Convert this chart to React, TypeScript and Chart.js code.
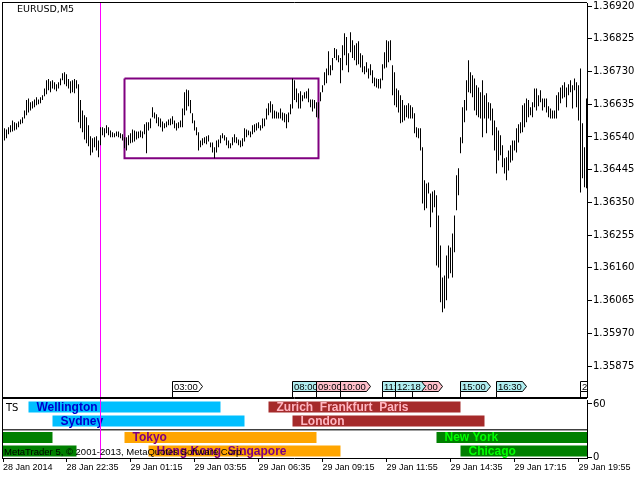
import React, { useEffect, useRef } from "react";
import { Chart, registerables } from "chart.js";

Chart.register(...registerables);

const SYMBOL_LABEL = "EURUSD,M5";
const INDICATOR_LABEL = "TS";
const COPYRIGHT = "MetaTrader 5, © 2001-2013, MetaQuotes Software Corp.";

// M5 bars, 28 Jan 2014 20:00 -> 29 Jan 2014 20:15 (one entry per bar)
const HIGHS = [
  1.36565, 1.36562, 1.36568, 1.36574, 1.36588, 1.36583, 1.3658, 1.36585, 1.36591, 1.36597,
  1.36617, 1.36647, 1.36652, 1.36641, 1.36644, 1.36649, 1.36655, 1.36649, 1.36655, 1.36661,
  1.36681, 1.36705, 1.36708, 1.36702, 1.36705, 1.36699, 1.36693, 1.36699, 1.3671, 1.36725,
  1.36728, 1.36722, 1.36708, 1.36702, 1.36705, 1.36708, 1.36705, 1.36693, 1.36647, 1.36617,
  1.36603, 1.36597, 1.36574, 1.36542, 1.36536, 1.36539, 1.36542, 1.3653,
  1.36568, 1.36568, 1.36565, 1.36574, 1.36568, 1.36559, 1.36554, 1.36551, 1.36556, 1.36556,
  1.36551, 1.36548, 1.36539, 1.36539, 1.36545, 1.36551, 1.36562, 1.36559, 1.36556, 1.36556,
  1.36559, 1.36556, 1.36577, 1.36583, 1.36583, 1.36594, 1.36626, 1.36611, 1.36606, 1.36597,
  1.36594, 1.36585, 1.3658, 1.36585, 1.36591, 1.36594, 1.366, 1.36588, 1.3658, 1.36583,
  1.36588, 1.36623, 1.3667, 1.36678, 1.36676, 1.36647, 1.36609, 1.36588, 1.36568, 1.36554,
  1.3653, 1.36536, 1.36539, 1.36542, 1.36545, 1.36524, 1.36524, 1.3651, 1.3653, 1.36533,
  1.36545, 1.36551, 1.36545, 1.36539, 1.3653, 1.36522, 1.36539, 1.36548, 1.36539, 1.36533,
  1.3653, 1.36536, 1.36565, 1.36562, 1.36559, 1.36556, 1.36574, 1.36577, 1.3658, 1.36583,
  1.36574, 1.36594, 1.36594, 1.36623, 1.36638, 1.36644, 1.36635, 1.36617, 1.36614, 1.36611,
  1.36623, 1.36611, 1.36609, 1.36606, 1.36611, 1.36635, 1.3671, 1.36705, 1.36681, 1.36667,
  1.36673, 1.36661, 1.3667, 1.36673, 1.36681, 1.36649, 1.36649, 1.36647, 1.36641, 1.36641,
  1.3667, 1.3669, 1.36728, 1.36739, 1.36789, 1.36748, 1.36769, 1.36798, 1.36795, 1.36777,
  1.36769, 1.36806, 1.36841, 1.3683, 1.36783, 1.36844, 1.36821, 1.36806, 1.36812, 1.36818,
  1.36783, 1.36777, 1.36745, 1.36757, 1.36739, 1.36751, 1.36734, 1.36713, 1.3671, 1.36708,
  1.3671, 1.36751, 1.36786, 1.36821, 1.36818, 1.36821, 1.36748, 1.36728, 1.36681, 1.36676,
  1.36661, 1.36647, 1.36632, 1.36632, 1.36638, 1.36632, 1.36626, 1.36609, 1.36568, 1.36565,
  1.36565, 1.3651, 1.36414, 1.36405, 1.36408, 1.36376, 1.36382, 1.36385, 1.36371, 1.36312,
  1.36225, 1.36132, 1.36138, 1.36196, 1.36225, 1.36219, 1.3626, 1.36312, 1.36429, 1.36449,
  1.36539, 1.36626, 1.36647, 1.36705, 1.36763, 1.36728, 1.36719, 1.3671, 1.3669, 1.36684,
  1.3667, 1.36705, 1.36661, 1.36667, 1.36641, 1.36638, 1.36623, 1.36588, 1.36568, 1.36559,
  1.36545, 1.36516, 1.36478, 1.36481, 1.36501, 1.36516, 1.3653, 1.3653, 1.36565, 1.36577,
  1.36583, 1.36632, 1.36638, 1.36652, 1.36647, 1.36626, 1.36641, 1.36681, 1.36681, 1.36661,
  1.36676, 1.36652, 1.36652, 1.36652, 1.36629, 1.36623, 1.36617, 1.36617, 1.36661, 1.3667,
  1.36684, 1.3669, 1.36699, 1.36684, 1.36693, 1.36705, 1.3669, 1.3671, 1.36699, 1.3669,
  1.36739, 1.3658, 1.3651, 1.36652,
];

const LOWS = [
  1.3653, 1.36536, 1.36548, 1.36554, 1.36556, 1.36559, 1.36562, 1.36568, 1.36577, 1.3658,
  1.36594, 1.36603, 1.36611, 1.36617, 1.36623, 1.36626, 1.36632, 1.36635, 1.36638, 1.36647,
  1.36658, 1.36664, 1.36676, 1.3667, 1.36681, 1.36678, 1.36673, 1.36681, 1.3669, 1.36705,
  1.36693, 1.36687, 1.36681, 1.36667, 1.3667, 1.36667, 1.36681, 1.36583, 1.36565, 1.36554,
  1.36533, 1.36522, 1.36513, 1.36487, 1.36495, 1.3651, 1.36501, 1.36481,
  1.36516, 1.36545, 1.36539, 1.36551, 1.36545, 1.36539, 1.36539, 1.36539, 1.36542, 1.36539,
  1.36536, 1.3653, 1.36507, 1.36501, 1.36516, 1.36522, 1.36524, 1.36527, 1.36533, 1.36536,
  1.36539, 1.36536, 1.36548, 1.36493, 1.36559, 1.36565, 1.36597, 1.36594, 1.3658, 1.36571,
  1.36568, 1.36556, 1.36565, 1.36568, 1.36574, 1.36574, 1.36577, 1.36565, 1.36559, 1.36565,
  1.36568, 1.36568, 1.36603, 1.36617, 1.36629, 1.36609, 1.3658, 1.36559, 1.36545, 1.36501,
  1.3651, 1.36516, 1.36522, 1.36519, 1.36527, 1.3651, 1.36495, 1.36478, 1.36495, 1.3651,
  1.36522, 1.36536, 1.3653, 1.36516, 1.36507, 1.36507, 1.36516, 1.36524, 1.36522, 1.36516,
  1.3651, 1.36513, 1.36527, 1.36539, 1.36545, 1.36539, 1.36548, 1.36554, 1.36559, 1.36565,
  1.36559, 1.36565, 1.36571, 1.36591, 1.36603, 1.36611, 1.36594, 1.36594, 1.36594, 1.36594,
  1.36594, 1.36588, 1.36583, 1.36565, 1.36583, 1.36606, 1.36623, 1.36647, 1.36641, 1.36623,
  1.36623, 1.36644, 1.36652, 1.36652, 1.36641, 1.36626, 1.36614, 1.36623, 1.36597, 1.36594,
  1.36644, 1.3667, 1.3669, 1.36696, 1.36719, 1.36719, 1.36734, 1.36769, 1.36763, 1.36757,
  1.36696, 1.36734, 1.36777, 1.36748, 1.36728, 1.36786, 1.36769, 1.36763, 1.36748, 1.36751,
  1.36742, 1.36728, 1.36722, 1.36728, 1.3671, 1.36719, 1.36696, 1.36687, 1.36684, 1.36681,
  1.36681, 1.36705, 1.36739, 1.36742, 1.36757, 1.36763, 1.36661, 1.36632, 1.36626, 1.36611,
  1.3658, 1.36583, 1.36588, 1.36597, 1.36594, 1.36594, 1.36594, 1.36551, 1.36539, 1.36536,
  1.36501, 1.36347, 1.36327, 1.36333, 1.36376, 1.36278, 1.36321, 1.36336, 1.36167, 1.36161,
  1.3606, 1.36031, 1.36042, 1.36066, 1.36129, 1.36144, 1.36132, 1.36205, 1.36327, 1.36371,
  1.36493, 1.36522, 1.36583, 1.36617, 1.3667, 1.36667, 1.36655, 1.36617, 1.36603, 1.36597,
  1.36594, 1.36539, 1.36594, 1.36551, 1.36594, 1.36588, 1.36545, 1.36501, 1.36434, 1.36472,
  1.36487, 1.36452, 1.36434, 1.36414, 1.36443, 1.36466, 1.36472, 1.36501, 1.36495, 1.36524,
  1.36551, 1.36554, 1.36568, 1.36583, 1.36597, 1.36603, 1.36597, 1.36626, 1.36617, 1.36629,
  1.36641, 1.36617, 1.36626, 1.36611, 1.36597, 1.36594, 1.36594, 1.36594, 1.36594, 1.36617,
  1.36638, 1.36652, 1.36655, 1.36626, 1.36661, 1.3667, 1.36623, 1.36676, 1.36626, 1.36588,
  1.36379, 1.3642, 1.36394, 1.36391,
];

const PRICE_TICKS = [
  1.35875, 1.3597, 1.36065, 1.3616, 1.36255, 1.3635, 1.36445, 1.3654, 1.36635, 1.3673, 1.36825, 1.3692,
];

const TIME_TICK_BARS = [-0.75, 31, 63, 95, 127, 159, 191, 223, 255, 287];
const TIME_TICK_LABELS = [
  "28 Jan 2014", "28 Jan 22:35", "29 Jan 01:15", "29 Jan 03:55", "29 Jan 06:35",
  "29 Jan 09:15", "29 Jan 11:55", "29 Jan 14:35", "29 Jan 17:15", "29 Jan 19:55",
];

const DAY_SEPARATOR_BAR = 48; // 29 Jan 00:00

const BOX_BARS = [60, 157];
const BOX_PRICES = [1.3671, 1.36478];

const EVENT_LABELS = ["03:00", "08:00", "09:00", "10:00", "11:45", "13:00", "12:18", "15:00", "16:30", "20:00"];
const EVENT_BARS = [84, 144, 156, 168, 189, 204, 195.6, 228, 246, 288];
const EVENT_IMPORTANCE = ["none", "low", "medium", "medium", "low", "medium", "low", "low", "low", "none"];

const SESSION_LABELS = [
  "", "", "Wellington", "Sydney", "Tokyo", "Hong Kong  Singapore",
  "Zurich  Frankfurt  Paris", "London", "New York", "Chicago",
];
const SESSION_STARTS = [-0.75, -0.75, 12, 24, 60, 72, 132, 144, 216, 228];
const SESSION_ENDS = [24, 36, 108, 120, 156, 168, 228, 240, 291.25, 291.25];
const SESSION_ROWS = [22.1, 6.8, 56.6, 40.8, 22.1, 6.8, 56.6, 40.8, 22.1, 6.8];
const SESSION_FILLS = [
  "#008000", "#008000", "#00BFFF", "#00BFFF", "#FFA500", "#FFA500",
  "#A52A2A", "#A52A2A", "#008000", "#008000",
];
const SESSION_TEXT_COLORS = [
  "#00FF00", "#00FF00", "#0000CD", "#0000CD", "#800080", "#800080",
  "#FFB6C1", "#FFB6C1", "#00FF00", "#00FF00",
];

const PANEL_TICKS = [0, 60];
const PANEL_DIVIDER = 31.1;

const EVENT_COLORS: Record<string, string> = { none: "#FFFFFF", low: "#B0EEF0", medium: "#FFC0CB" };

const X_MIN = -0.75;
const X_MAX = 291.25;

const topDecor = {
  id: "topDecor",
  beforeDatasetsDraw(chart: any) {
    const { ctx, chartArea: a, scales } = chart;
    const px = Math.floor(scales.x.getPixelForValue(DAY_SEPARATOR_BAR)) + 0.5;
    ctx.save();
    ctx.strokeStyle = "#FF00FF";
    ctx.lineWidth = 1;
    ctx.beginPath();
    ctx.moveTo(px, a.top);
    ctx.lineTo(px, a.bottom);
    ctx.stroke();
    ctx.restore();
  },
  afterDatasetsDraw(chart: any) {
    const { ctx, chartArea: a, scales } = chart;
    ctx.save();
    // event tags along the bottom of the price window
    ctx.beginPath();
    ctx.rect(a.left, a.top, a.right - a.left, a.bottom - a.top);
    ctx.clip();
    ctx.font = "9.5px 'Liberation Sans'";
    ctx.textBaseline = "middle";
    const bottom = a.bottom - 5.5;
    const top = bottom - 10;
    EVENT_LABELS.forEach((label, i) => {
      const x0 = Math.floor(scales.x.getPixelForValue(EVENT_BARS[i])) + 0.5;
      const w = Math.round(ctx.measureText(label).width) + 2;
      ctx.beginPath();
      ctx.moveTo(x0, top);
      ctx.lineTo(x0 + w, top);
      ctx.lineTo(x0 + w + 4, (top + bottom) / 2);
      ctx.lineTo(x0 + w, bottom);
      ctx.lineTo(x0, bottom);
      ctx.closePath();
      ctx.fillStyle = EVENT_COLORS[EVENT_IMPORTANCE[i]];
      ctx.fill();
      ctx.strokeStyle = "#000";
      ctx.lineWidth = 1;
      ctx.stroke();
      ctx.beginPath();
      ctx.moveTo(x0, bottom);
      ctx.lineTo(x0, a.bottom);
      ctx.stroke();
      ctx.fillStyle = "#000";
      ctx.textAlign = "left";
      ctx.fillText(label, x0 + 1.5, (top + bottom) / 2 + 0.5);
    });
    ctx.restore();

    ctx.save();
    ctx.fillStyle = "#000";
    ctx.font = "9.5px 'DejaVu Sans'";
    ctx.textBaseline = "middle";
    ctx.textAlign = "left";
    ctx.fillText(SYMBOL_LABEL, 17, 10);
    ctx.strokeStyle = "#000";
    ctx.lineWidth = 1;
    ctx.beginPath();
    ctx.moveTo(2.5, 2);
    ctx.lineTo(2.5, a.bottom + 2);
    ctx.moveTo(2, 2.5);
    ctx.lineTo(a.right, 2.5);
    ctx.moveTo(2, a.bottom + 0.5);
    ctx.lineTo(a.right, a.bottom + 0.5);
    ctx.moveTo(2, a.bottom + 1.5);
    ctx.lineTo(a.right, a.bottom + 1.5);
    ctx.stroke();
    ctx.restore();
  },
};

const bottomDecor = {
  id: "bottomDecor",
  beforeDatasetsDraw(chart: any) {
    const { ctx, chartArea: a, scales } = chart;
    const yd = Math.round(scales.y.getPixelForValue(PANEL_DIVIDER));
    ctx.save();
    ctx.strokeStyle = "#404040";
    ctx.lineWidth = 1;
    ctx.beginPath();
    ctx.moveTo(a.left, yd - 0.5);
    ctx.lineTo(a.right, yd - 0.5);
    ctx.stroke();
    ctx.strokeStyle = "#A0A0A0";
    ctx.beginPath();
    ctx.moveTo(a.left, yd + 0.5);
    ctx.lineTo(a.right, yd + 0.5);
    ctx.stroke();
    ctx.restore();
  },
  afterDatasetsDraw(chart: any) {
    const { ctx, chartArea: a, scales } = chart;
    ctx.save();
    ctx.font = "bold 12px 'Liberation Sans'";
    ctx.textBaseline = "middle";
    ctx.textAlign = "left";
    SESSION_LABELS.forEach((label, i) => {
      if (!label) return;
      const x = scales.x.getPixelForValue(SESSION_STARTS[i]) + 8;
      const y = scales.y.getPixelForValue(SESSION_ROWS[i]) + 0.5;
      ctx.fillStyle = SESSION_TEXT_COLORS[i];
      ctx.fillText(label, x, y);
    });
    const px = Math.floor(scales.x.getPixelForValue(DAY_SEPARATOR_BAR)) + 0.5;
    ctx.strokeStyle = "#FF00FF";
    ctx.lineWidth = 1;
    ctx.beginPath();
    ctx.moveTo(px, 0);
    ctx.lineTo(px, a.bottom);
    ctx.stroke();

    ctx.fillStyle = "#000";
    ctx.font = "10px 'DejaVu Sans'";
    ctx.fillText(INDICATOR_LABEL, 6, 9.5);
    ctx.font = "9.5px 'Liberation Sans'";
    ctx.textBaseline = "alphabetic";
    ctx.fillText(COPYRIGHT, 4, a.bottom - 3.5);

    ctx.strokeStyle = "#000";
    ctx.beginPath();
    ctx.moveTo(2.5, 0);
    ctx.lineTo(2.5, a.bottom + 1);
    ctx.moveTo(2, a.bottom + 0.5);
    ctx.lineTo(a.right, a.bottom + 0.5);
    ctx.stroke();
    ctx.restore();
  },
};

function noPad(s: any) {
  s.paddingTop = 0;
  s.paddingBottom = 0;
  s.paddingLeft = 0;
  s.paddingRight = 0;
}

export default function App() {
  const topRef = useRef<HTMLCanvasElement>(null);
  const botRef = useRef<HTMLCanvasElement>(null);

  useEffect(() => {
    Chart.defaults.font.family = "'DejaVu Sans'";
    Chart.defaults.color = "#000";

    const top = new Chart(topRef.current as HTMLCanvasElement, {
      type: "bar",
      data: {
        datasets: [
          {
            type: "bar",
            data: HIGHS.map((h, i) => ({ x: i, y: [LOWS[i], h] })) as any,
            backgroundColor: "#000",
            borderWidth: 0,
            barThickness: 1,
            inflateAmount: 0,
            order: 1,
          } as any,
          {
            type: "line",
            data: [
              { x: BOX_BARS[0], y: BOX_PRICES[0] },
              { x: BOX_BARS[1], y: BOX_PRICES[0] },
              { x: BOX_BARS[1], y: BOX_PRICES[1] },
              { x: BOX_BARS[0], y: BOX_PRICES[1] },
              { x: BOX_BARS[0], y: BOX_PRICES[0] },
            ],
            borderColor: "#800080",
            borderWidth: 2,
            pointRadius: 0,
            tension: 0,
            fill: false,
            order: 2,
          } as any,
        ],
      },
      options: {
        animation: false,
        responsive: false,
        maintainAspectRatio: false,
        events: [],
        layout: { padding: { left: 3, top: 3, right: 0, bottom: 2 } },
        plugins: { legend: { display: false }, tooltip: { enabled: false } },
        scales: {
          x: { type: "linear", min: X_MIN, max: X_MAX, display: false, offset: false },
          y: {
            type: "linear",
            position: "right",
            min: 1.35785,
            max: 1.36929,
            afterBuildTicks: (s: any) => {
              s.ticks = PRICE_TICKS.map((v) => ({ value: v }));
            },
            afterFit: (s: any) => {
              s.width = 53;
              noPad(s);
            },
            ticks: {
              autoSkip: false,
              padding: 1,
              color: "#000",
              font: { family: "'DejaVu Sans'", size: 10 },
              callback: (v: any) => Number(v).toFixed(5),
            },
            grid: { drawOnChartArea: false, tickLength: 5, color: "#000" },
            border: { display: true, color: "#000" },
          },
        },
      } as any,
      plugins: [topDecor],
    });

    const bot = new Chart(botRef.current as HTMLCanvasElement, {
      type: "line",
      data: {
        datasets: SESSION_LABELS.map((label, i) => ({
          label,
          data: [
            { x: SESSION_STARTS[i], y: SESSION_ROWS[i] },
            { x: SESSION_ENDS[i], y: SESSION_ROWS[i] },
          ],
          borderColor: SESSION_FILLS[i],
          borderWidth: 11,
          borderCapStyle: "butt",
          pointRadius: 0,
          tension: 0,
          fill: false,
        })) as any,
      },
      options: {
        animation: false,
        responsive: false,
        maintainAspectRatio: false,
        events: [],
        layout: { padding: { left: 3, top: 1, right: 0, bottom: 0 } },
        plugins: { legend: { display: false }, tooltip: { enabled: false } },
        scales: {
          x: {
            type: "linear",
            min: X_MIN,
            max: X_MAX,
            offset: false,
            afterBuildTicks: (s: any) => {
              s.ticks = TIME_TICK_BARS.map((v) => ({ value: v }));
            },
            afterFit: (s: any) => {
              s.height = 22;
              noPad(s);
            },
            ticks: {
              autoSkip: false,
              maxRotation: 0,
              minRotation: 0,
              align: "start",
              padding: 0,
              color: "#000",
              font: { family: "'Liberation Sans'", size: 9 },
              callback: (_v: any, idx: number) => TIME_TICK_LABELS[idx],
            },
            grid: { drawOnChartArea: false, tickLength: 4, color: "#000" },
            border: { display: false },
          },
          y: {
            type: "linear",
            position: "right",
            min: -1.1,
            max: 64.5,
            afterBuildTicks: (s: any) => {
              s.ticks = PANEL_TICKS.map((v) => ({ value: v }));
            },
            afterFit: (s: any) => {
              s.width = 53;
              noPad(s);
            },
            ticks: {
              autoSkip: false,
              padding: 1,
              color: "#000",
              font: { family: "'DejaVu Sans'", size: 10 },
            },
            grid: { drawOnChartArea: false, tickLength: 5, color: "#000" },
            border: { display: true, color: "#000" },
          },
        },
      } as any,
      plugins: [bottomDecor],
    });

    return () => {
      top.destroy();
      bot.destroy();
    };
  }, []);

  return (
    <div
      style={{
        position: "fixed",
        left: 0,
        top: 0,
        width: 640,
        height: 480,
        background: "#fff",
        overflow: "hidden",
      }}
    >
      <canvas
        ref={topRef}
        width={640}
        height={399}
        style={{ position: "absolute", left: 0, top: 0, width: 640, height: 399 }}
      />
      <canvas
        ref={botRef}
        width={640}
        height={81}
        style={{ position: "absolute", left: 0, top: 399, width: 640, height: 81 }}
      />
    </div>
  );
}
